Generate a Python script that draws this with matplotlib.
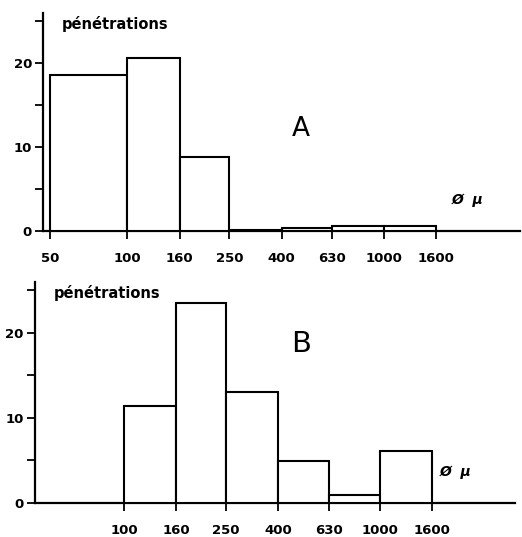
import matplotlib
matplotlib.use("Agg")
import matplotlib.pyplot as plt

edges_a = [50, 100, 160, 250, 400, 630, 1000, 1600]
counts_a = [18.6, 20.6, 8.85, 0.1, 0.35, 0.55, 0.6]
edges_b = [100, 160, 250, 400, 630, 1000, 1600]
counts_b = [11.4, 23.5, 13.0, 4.9, 0.9, 6.1]
edge_labels_a = ["50", "100", "160", "250", "400", "630", "1000", "1600"]
edge_labels_b = ["100", "160", "250", "400", "630", "1000", "1600"]
ylabel = "pénétrations"
xunit = "Ø  μ"

fig = plt.figure(figsize=(5.22, 5.37), dpi=100)

def panel(rect, edges, counts, labels, letter, letter_pos, letter_size, xlim):
    ax = fig.add_axes(rect)
    lefts = edges[:-1]
    widths = [edges[i + 1] - edges[i] for i in range(len(edges) - 1)]
    ax.bar(lefts, counts, width=widths, align="edge", facecolor="white",
           edgecolor="black", linewidth=1.5, zorder=3)
    ax.set_xscale("log")
    ax.set_xlim(*xlim)
    ax.set_ylim(0, 26)
    ax.set_xticks(edges)
    ax.set_xticklabels(labels, fontsize=9.5, fontweight="bold")
    ax.minorticks_off()
    ax.set_yticks([0, 5, 10, 15, 20, 25])
    ax.set_yticklabels(["0", "", "10", "", "20", ""], fontsize=9.5, fontweight="bold")
    for s in ["top", "right"]:
        ax.spines[s].set_visible(False)
    for s in ["left", "bottom"]:
        ax.spines[s].set_linewidth(1.6)
    ax.tick_params(axis="x", direction="out", length=6, width=1.3, pad=9)
    ax.tick_params(axis="y", direction="out", length=6, width=1.3, pad=2)
    ax.text(0.04, 0.985, ylabel, transform=ax.transAxes, fontsize=10.5,
            fontweight="semibold", va="top", ha="left")
    ax.text(letter_pos[0], letter_pos[1], letter, transform=ax.transAxes,
            fontsize=letter_size, ha="center", va="center")
    return ax

axA = panel([0.0824, 0.5698, 0.914, 0.406], edges_a, counts_a, edge_labels_a,
            "A", (0.54, 0.47), 19, (46.9, 3400))
axA.text(0.89, 0.14, xunit, transform=axA.transAxes, fontsize=10,
         fontweight="bold", ha="center", va="center", style="italic")

axB = panel([0.067, 0.0633, 0.92, 0.412], edges_b, counts_b, edge_labels_b,
            "B", (0.554, 0.72), 21, (44.9, 3380))
axB.text(0.875, 0.14, xunit, transform=axB.transAxes, fontsize=10,
         fontweight="bold", ha="center", va="center", style="italic")

fig.savefig("out.png", dpi=100)
